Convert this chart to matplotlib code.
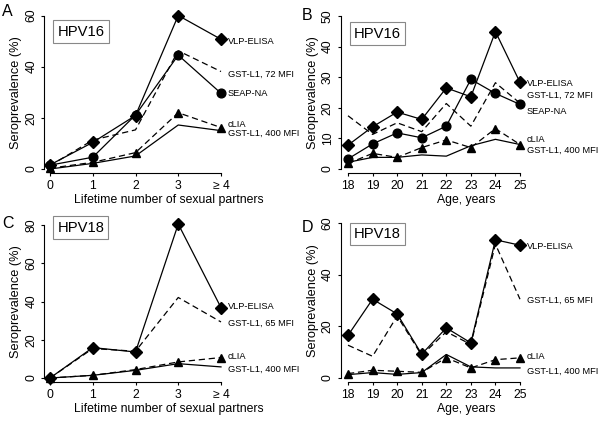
import matplotlib
matplotlib.use("Agg")
import matplotlib.pyplot as plt

plt.rcParams['font.family'] = ['Liberation Sans', 'DejaVu Sans']

# ---- data ----
partners = [0, 1, 2, 3, 4]
partner_labels = ["0", "1", "2", "3", "\u2265 4"]
ages = [18, 19, 20, 21, 22, 23, 24, 25]

# HPV16 by partners (panel A)
a_vlp = [1.6, 10.4, 20.9, 60.0, 50.7]
a_gst72 = [1.3, 11.3, 15.3, 46.2, 38.1]
a_seap = [1.5, 4.6, 21.1, 44.5, 29.6]
a_clia = [0.3, 2.6, 6.4, 22.0, 16.2]
a_gst400 = [0.0, 2.2, 5.1, 17.2, 15.0]

# HPV16 by age (panel B)
b_vlp = [7.8, 13.8, 18.6, 16.2, 26.5, 23.6, 44.9, 28.3]
b_gst72 = [17.4, 11.3, 15.1, 12.2, 21.4, 14.0, 28.2, 21.5]
b_seap = [3.3, 8.2, 11.8, 10.2, 14.0, 29.3, 24.7, 21.1]
b_clia = [1.8, 5.1, 3.8, 7.0, 9.5, 7.0, 13.2, 8.0]
b_gst400 = [2.2, 3.8, 3.8, 4.6, 4.2, 7.6, 9.7, 8.0]

# HPV18 by partners (panel C)
c_vlp = [0.0, 15.9, 13.6, 80.5, 36.8]
c_gst65 = [0.0, 15.4, 14.0, 42.1, 29.3]
c_clia = [0.0, 1.4, 4.4, 8.4, 10.7]
c_gst400 = [0.0, 1.4, 4.0, 7.5, 5.8]

# HPV18 by age (panel D)
d_vlp = [16.5, 30.5, 24.8, 9.2, 19.4, 13.6, 53.5, 51.4]
d_gst65 = [12.7, 8.4, 24.0, 8.8, 17.9, 13.0, 51.8, 30.5]
d_clia = [1.7, 3.0, 2.6, 2.2, 7.8, 3.9, 7.1, 7.8]
d_gst400 = [1.3, 2.1, 1.4, 2.1, 9.1, 4.3, 3.9, 3.9]

W, H = 600, 421
fig = plt.figure(figsize=(6, 4.21), dpi=100)

DASH = (0, (5, 3))
LW = 0.9


def make_ax(x0, x1, ytop, ybot, left_out):
    ax = fig.add_axes([x0 / W, (H - ybot) / H, (x1 - x0) / W, (ybot - ytop) / H])
    ax.patch.set_alpha(0)
    for s in ("top", "right"):
        ax.spines[s].set_visible(False)
    ax.spines["left"].set_position(("outward", left_out))
    ax.spines["bottom"].set_position(("outward", 3))
    for s in ("left", "bottom"):
        ax.spines[s].set_linewidth(0.8)
    ax.tick_params(direction="out", length=2.4, width=0.8, labelsize=8.7)
    ax.tick_params(axis="x", pad=2.3)
    ax.tick_params(axis="y", pad=2.8)
    return ax


def series(ax, x, y, style, marker=None, ms=6):
    ax.plot(x, y, color="black", lw=LW, linestyle=style, marker=marker,
            markersize=ms, markerfacecolor="black", markeredgecolor="black",
            clip_on=False, zorder=3)


def label(ax, x, y, text):
    ax.annotate(text, (x, y), xytext=(4.8, 0), textcoords="offset points",
                fontsize=6.7, va="center", ha="left", annotation_clip=False)


def fig_text(px, py, text, **kw):
    fig.text(px / W, 1 - py / H, text, **kw)


def decorate(ax, letter, lpos, title, tpos, xlabel, xlab_frac, ymax, ystep):
    ax.set_ylim(0, ymax)
    ax.set_yticks(range(0, ymax + 1, ystep))
    ax.spines["left"].set_bounds(0, ymax)
    ax.set_ylabel("Seroprevalence (%)", fontsize=9.2, labelpad=2)
    ax.set_xlabel(xlabel, fontsize=8.8, labelpad=1.8)
    ax.xaxis.label.set_x(xlab_frac)
    for lab in ax.get_yticklabels():
        lab.set_rotation(90)
        lab.set_va("center")
    fig_text(lpos[0], lpos[1], letter, fontsize=11.5, va="center", ha="left")
    fig_text(tpos[0], tpos[1], title, fontsize=10.6, va="center", ha="left",
             bbox=dict(boxstyle="square,pad=0.28", fc="white", ec="#888888", lw=0.8))


# Panel A
ax = make_ax(50, 221, 15.5, 169, 4)
series(ax, partners, a_vlp, "-", "D", 6.5)
series(ax, partners, a_gst72, DASH)
series(ax, partners, a_seap, "-", "o", 6.3)
series(ax, partners, a_clia, DASH, "^", 5.5)
series(ax, partners, a_gst400, "-")
ax.set_xlim(0, 4)
ax.set_xticks(partners)
ax.set_xticklabels(partner_labels)
decorate(ax, "A", (2, 12), "HPV16", (57.5, 31.5),
         "Lifetime number of sexual partners", 0.693, 60, 20)
label(ax, 4, 49.9, "VLP-ELISA")
label(ax, 4, 36.9, "GST-L1, 72 MFI")
label(ax, 4, 29.7, "SEAP-NA")
label(ax, 4, 17.5, "cLIA")
label(ax, 4, 13.8, "GST-L1, 400 MFI")

# Panel B
ax = make_ax(348, 520, 16, 169, 5)
series(ax, ages, b_vlp, "-", "D", 6.5)
series(ax, ages, b_gst72, DASH)
series(ax, ages, b_seap, "-", "o", 6.3)
series(ax, ages, b_clia, DASH, "^", 5.5)
series(ax, ages, b_gst400, "-")
ax.set_xlim(18, 25)
ax.set_xticks(ages)
decorate(ax, "B", (302, 15), "HPV16", (354, 33.5), "Age, years", 0.689, 50, 10)
label(ax, 25, 28.0, "VLP-ELISA")
label(ax, 25, 24.2, "GST-L1, 72 MFI")
label(ax, 25, 18.7, "SEAP-NA")
label(ax, 25, 9.8, "cLIA")
label(ax, 25, 6.2, "GST-L1, 400 MFI")

# Panel C
ax = make_ax(50, 221, 225, 378, 4)
series(ax, partners, c_vlp, "-", "D", 6.5)
series(ax, partners, c_gst65, DASH)
series(ax, partners, c_clia, DASH, "^", 5.5)
series(ax, partners, c_gst400, "-")
ax.set_xlim(0, 4)
ax.set_xticks(partners)
ax.set_xticklabels(partner_labels)
decorate(ax, "C", (2, 223), "HPV18", (57.5, 227.5),
         "Lifetime number of sexual partners", 0.693, 80, 20)
label(ax, 4, 37.3, "VLP-ELISA")
label(ax, 4, 28.5, "GST-L1, 65 MFI")
label(ax, 4, 11.5, "cLIA")
label(ax, 4, 4.4, "GST-L1, 400 MFI")

# Panel D
ax = make_ax(348, 520, 223, 378, 5)
series(ax, ages, d_vlp, "-", "D", 6.5)
series(ax, ages, d_gst65, DASH)
series(ax, ages, d_clia, DASH, "^", 5.5)
series(ax, ages, d_gst400, "-")
ax.set_xlim(18, 25)
ax.set_xticks(ages)
decorate(ax, "D", (302, 228), "HPV18", (354, 234), "Age, years", 0.689, 60, 20)
label(ax, 25, 51.0, "VLP-ELISA")
label(ax, 25, 29.9, "GST-L1, 65 MFI")
label(ax, 25, 8.2, "cLIA")
label(ax, 25, 2.6, "GST-L1, 400 MFI")

fig.savefig("out.png", dpi=100)
